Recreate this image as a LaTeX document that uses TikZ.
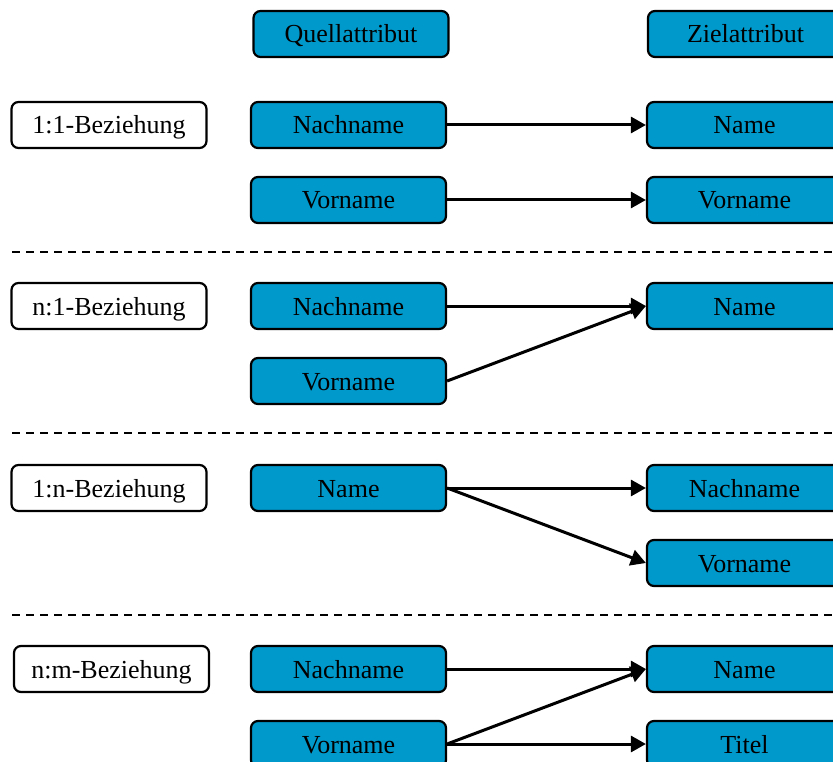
\documentclass[tikz,border=0pt]{standalone}
\usepackage{fontspec}
\setmainfont{Liberation Serif}
\usetikzlibrary{arrows.meta}
\definecolor{attrblue}{RGB}{0,153,204}
\tikzset{
  attr/.style={draw=black, line width=2.2pt, rounded corners=7pt, fill=attrblue,
    minimum width=195pt, minimum height=46pt, inner sep=0pt,
    font=\fontsize{26}{30}\selectfont, text depth=0pt, text height=18pt},
  rel/.style={attr, fill=white},
  link/.style={line width=3pt, -{Triangle[length=15pt,width=16pt]}},
  sep/.style={line width=1.5pt, dash pattern=on 8pt off 6pt}
}
\begin{document}
\begin{tikzpicture}[x=1pt,y=-1pt]
\useasboundingbox (0,0) rectangle (833,762);
% column headers
\node[attr] (hq) at (351,34) {Quellattribut};
\node[attr] (hz) at (745.5,34) {Zielattribut};
% 1:1
\node[rel] (r11) at (109,125) {1:1-Beziehung};
\node[attr] (a1) at (348.5,125) {Nachname};
\node[attr] (a2) at (348.5,200) {Vorname};
\node[attr] (b1) at (744.5,125) {Name};
\node[attr] (b2) at (744.5,200) {Vorname};
\draw[link] (a1) -- (b1);
\draw[link] (a2) -- (b2);
\coordinate (s1l) at (12,252); \coordinate (s1r) at (833,252);
\draw[sep] (s1l) -- (s1r);
% n:1
\node[rel] (rn1) at (109,306) {n:1-Beziehung};
\node[attr] (c1) at (348.5,306) {Nachname};
\node[attr] (c2) at (348.5,381) {Vorname};
\node[attr] (d1) at (744.5,306) {Name};
\draw[link] (c1) -- (d1);
\draw[link] (c2.east) -- (d1.west);
\coordinate (s2l) at (12,433); \coordinate (s2r) at (833,433);
\draw[sep] (s2l) -- (s2r);
% 1:n
\node[rel] (r1n) at (109,488) {1:n-Beziehung};
\node[attr] (e1) at (348.5,488) {Name};
\node[attr] (f1) at (744.5,488) {Nachname};
\node[attr] (f2) at (744.5,563) {Vorname};
\draw[link] (e1) -- (f1);
\draw[link] (e1.east) -- (f2.west);
\coordinate (s3l) at (12,615); \coordinate (s3r) at (833,615);
\draw[sep] (s3l) -- (s3r);
% n:m
\node[rel] (rnm) at (111.5,669) {n:m-Beziehung};
\node[attr] (g1) at (348.5,669) {Nachname};
\node[attr] (g2) at (348.5,744) {Vorname};
\node[attr] (h1) at (744.5,669) {Name};
\node[attr] (h2) at (744.5,744) {Titel};
\draw[link] (g1) -- (h1);
\draw[link] (g2.east) -- (h1.west);
\draw[link] (g2) -- (h2);
\end{tikzpicture}
\end{document}
